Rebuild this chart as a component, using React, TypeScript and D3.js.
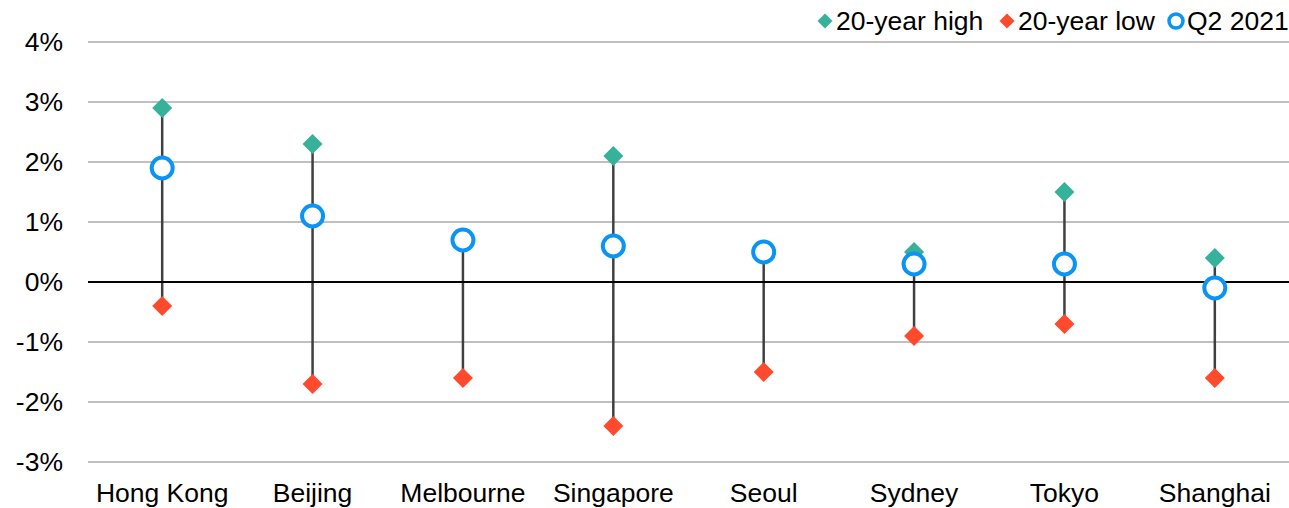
import React from "react";
import * as d3 from "d3";

const cities = ["Hong Kong", "Beijing", "Melbourne", "Singapore", "Seoul", "Sydney", "Tokyo", "Shanghai"];
const highs = [2.9, 2.3, 0.7, 2.1, 0.5, 0.5, 1.5, 0.4];
const lows = [-0.4, -1.7, -1.6, -2.4, -1.5, -0.9, -0.7, -1.6];
const q2 = [1.9, 1.1, 0.7, 0.6, 0.5, 0.3, 0.3, -0.1];
const yTicks = [4, 3, 2, 1, 0, -1, -2, -3];

const W = 1289;
const H = 508;
const M = { left: 87, right: 1290, top: 42, bottom: 462 };
const TEAL = "#36B29A";
const RED = "#FF4A2E";
const BLUE = "#0A94F5";
const FONT = "'Liberation Sans', Arial, sans-serif";
const FS = 26.5;

const diamond = (cx: number, cy: number, r: number) =>
  `M${cx},${cy - r}L${cx + r},${cy}L${cx},${cy + r}L${cx - r},${cy}Z`;

export default function App() {
  const x = d3.scaleBand<string>().domain(cities).range([M.left, M.right]);
  const y = d3.scaleLinear().domain([-3, 4]).range([M.bottom, M.top]);
  const cx = (c: string) => (x(c) as number) + x.bandwidth() / 2;

  return (
    <svg width={W} height={H} style={{ position: "absolute", left: 0, top: 0, display: "block" }} fontFamily={FONT}>
      <rect width={W} height={H} fill="#fff" />
      {yTicks.map((t) => (
        <g key={t}>
          {t !== 0 && (
            <line x1={M.left + 1} x2={W} y1={y(t)} y2={y(t)} stroke="#ABABAB" strokeWidth={1.3} />
          )}
          <text x={63} y={y(t)} dy="0.35em" textAnchor="end" fontSize={FS} fill="#000">
            {`${t}%`}
          </text>
        </g>
      ))}
      {cities.map((c, i) => (
        <line key={"r" + c} x1={cx(c)} x2={cx(c)} y1={y(highs[i])} y2={y(lows[i])} stroke="#404040" strokeWidth={2.5} />
      ))}
      <line x1={M.left + 1} x2={W} y1={y(0)} y2={y(0)} stroke="#000" strokeWidth={2} />
      {cities.map((c, i) => (
        <g key={"m" + c}>
          <path d={diamond(cx(c), y(highs[i]), 10)} fill={TEAL} />
          <path d={diamond(cx(c), y(lows[i]), 10)} fill={RED} />
          <circle cx={cx(c)} cy={y(q2[i])} r={10.5} fill="#fff" stroke={BLUE} strokeWidth={4} />
          <text x={cx(c)} y={502} textAnchor="middle" fontSize={FS} fill="#000">
            {c}
          </text>
        </g>
      ))}
      <g fontSize={FS} fill="#000">
        <path d={diamond(825, 21, 7.5)} fill={TEAL} />
        <text x={836} y={21} dy="0.35em">20-year high</text>
        <path d={diamond(1007, 21, 7.5)} fill={RED} />
        <text x={1018} y={21} dy="0.35em">20-year low</text>
        <circle cx={1176} cy={21} r={7} fill="#fff" stroke={BLUE} strokeWidth={3.5} />
        <text x={1187} y={21} dy="0.35em">Q2 2021</text>
      </g>
    </svg>
  );
}
